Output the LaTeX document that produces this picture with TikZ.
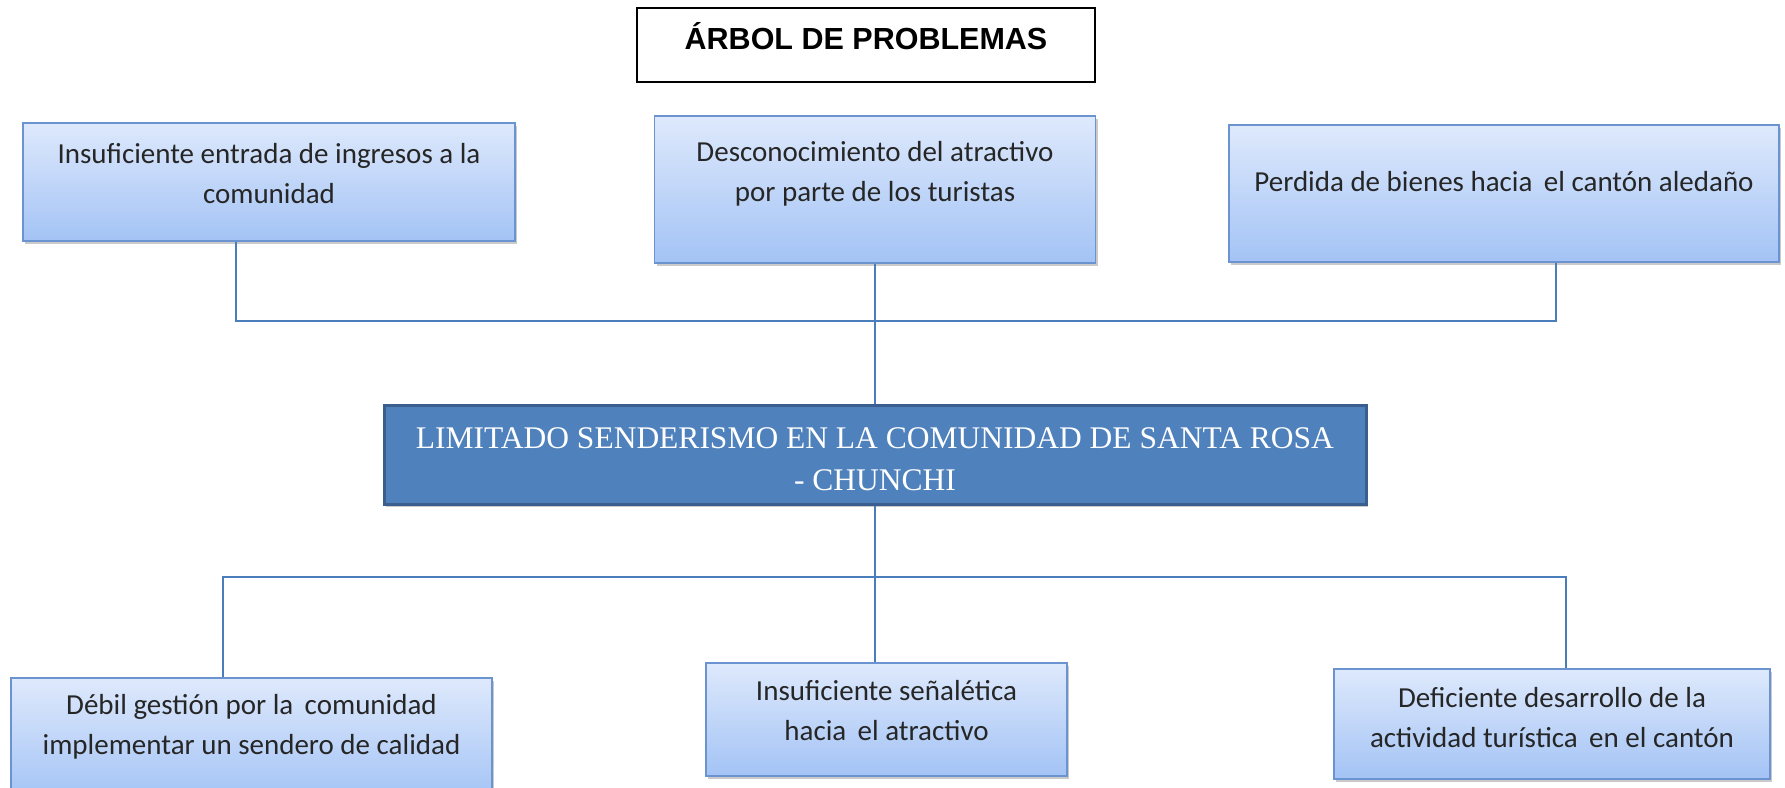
\documentclass[tikz,border=0pt]{standalone}
\usepackage{fontspec}
\setmainfont{Carlito}
\newfontfamily\fuentecentral{Liberation Serif}
\newfontfamily\fuentetitulo{Liberation Sans}
\usetikzlibrary{shadows}

\definecolor{bordeazul}{HTML}{6A93CF}
\definecolor{azulclaro}{HTML}{DEE9FC}
\definecolor{azulmedio}{HTML}{A3C3F5}
\definecolor{azulcentral}{HTML}{4F81BD}
\definecolor{azuloscuro}{HTML}{3A5F8E}
\definecolor{linea}{HTML}{4A7EBB}
\definecolor{textogris}{HTML}{262626}

\tikzset{
  caja/.style={rectangle, draw=bordeazul, line width=1.5pt,
    top color=azulclaro, bottom color=azulmedio,
    drop shadow={shadow xshift=2pt, shadow yshift=-3pt, opacity=0.35, fill=black!60}},
  texto/.style={align=center, text=textogris, font=\fontsize{29}{40}\selectfont},
  central/.style={rectangle, draw=azuloscuro, line width=3pt, fill=azulcentral,
    drop shadow={shadow xshift=2pt, shadow yshift=-3pt, opacity=0.35, fill=black!60}},
  textocentral/.style={align=center, text=white, font=\fuentecentral\fontsize{31.5}{42}\selectfont},
  titulo/.style={rectangle, draw=black, line width=1.5pt},
  textotitulo/.style={font=\fuentetitulo\bfseries\fontsize{30.5}{36}\selectfont},
  conector/.style={draw=linea, line width=1.5pt}
}

\begin{document}
\begin{tikzpicture}[x=1pt,y=-1pt]
  \useasboundingbox (0,0) rectangle (1785,787);

  % Titulo
  \node[titulo, minimum width=458pt, minimum height=74pt,
    label={[textotitulo, yshift=9pt]center:{ÁRBOL DE PROBLEMAS}}] (tit) at (866,45) {};

  % Efectos
  \node[caja, minimum width=492pt, minimum height=118pt,
    label={[texto, yshift=8pt]center:{Insuficiente entrada de ingresos a la\\comunidad}}] (ef1) at (269,182) {};
  \node[caja, minimum width=441pt, minimum height=147pt,
    label={[texto, yshift=15.5pt]center:{Desconocimiento del atractivo\\por parte de los turistas}}] (ef2) at (875,189.5) {};
  \node[caja, minimum width=550pt, minimum height=137pt,
    label={[texto, yshift=11.5pt]center:{Perdida de bienes hacia\, el cantón aledaño}}] (ef3) at (1504,193.5) {};

  % Problema central
  \node[central, minimum width=982pt, minimum height=99pt,
    label={[textocentral, yshift=-4.5pt]center:{LIMITADO SENDERISMO EN LA COMUNIDAD DE SANTA ROSA\\- CHUNCHI}}] (prob) at (875,454.5) {};

  % Causas
  \node[caja, minimum width=481pt, minimum height=122pt,
    label={[texto, yshift=12pt]center:{Débil gestión por la\, comunidad\\implementar un sendero de calidad}}] (ca1) at (251.5,739) {};
  \node[caja, minimum width=361pt, minimum height=113pt,
    label={[texto, yshift=8.5pt]center:{Insuficiente señalética\\hacia\, el atractivo}}] (ca2) at (886.5,719.5) {};
  \node[caja, minimum width=436pt, minimum height=110pt,
    label={[texto, yshift=6.5pt]center:{Deficiente desarrollo de la\\actividad turística\, en el cantón}}] (ca3) at (1552,724) {};

  % Conexiones
  \coordinate (nudoA) at (875,321);
  \coordinate (nudoB) at (875,577);

  \draw[conector] ([xshift=-33pt]ef1.south) |- (nudoA) -| ([xshift=52pt]ef3.south);
  \draw[conector] (ef2.south) -- (prob.north);

  \draw[conector] (prob.south) -- (nudoB);
  \draw[conector] ([xshift=-28.5pt]ca1.north) |- (nudoB) -| ([xshift=14pt]ca3.north);
  \draw[conector] (nudoB) -- ([xshift=-11.5pt]ca2.north);

\end{tikzpicture}
\end{document}
